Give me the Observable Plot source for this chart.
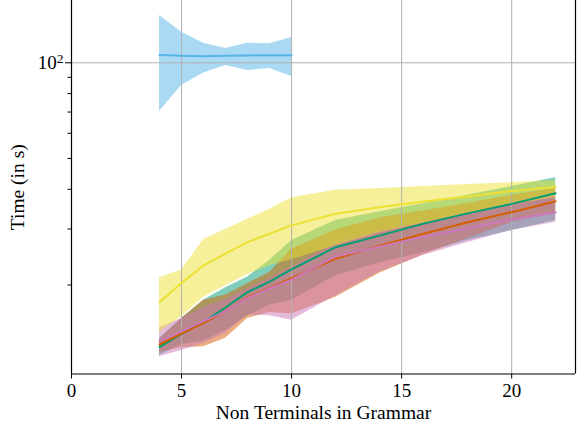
<!DOCTYPE html>
<html><head><meta charset="utf-8">
<script src="https://cdn.jsdelivr.net/npm/d3@7"></script>
<script src="https://cdn.jsdelivr.net/npm/@observablehq/plot@0.6"></script>
<style>body{margin:0;background:#fff}</style>
</head><body><div id="chart"></div>
<script>
// x values (Non Terminals in Grammar)
const xBlue = [4, 5, 6, 7, 8, 9, 10];
const xAll = [4, 5, 6, 7, 8, 9, 10, 12, 14, 16, 18, 20, 22];

// light blue series
const blueMean = [105.8, 105.3, 104.8, 105.2, 105.5, 105.6, 105.6];
const blueHi   = [140.8, 124.8, 115.2, 110.9, 115.2, 114.7, 120.1];
const blueLo   = [70.3, 84.9, 92.8, 98.0, 94.6, 95.9, 90.6];

// yellow series
const yellowMean = [17.67, 20.28, 23.05, 25.1, 27.28, 29.0, 30.8, 33.5, 35.1, 36.6, 38.0, 39.5, 40.7];
const yellowHi   = [21.1, 22.3, 27.8, 29.9, 32.2, 34.6, 37.6, 39.7, 40.2, 40.8, 41.4, 42.0, 42.6];
const yellowLo   = [14.2, 15.9, 18.3, 19.9, 21.6, 23.0, 24.0, 26.6, 29.2, 31.3, 33.5, 35.8, 37.6];

// green series
const greenMean = [12.76, 14.05, 15.28, 17.0, 19.0, 20.5, 22.4, 26.3, 28.6, 31.2, 33.6, 36.0, 38.9];
const greenHi   = [13.6, 15.7, 17.9, 19.6, 21.2, 23.9, 27.6, 31.9, 34.0, 36.1, 38.3, 40.8, 43.5];
const greenLo   = [12.0, 13.0, 13.3, 14.4, 16.0, 17.3, 17.9, 21.4, 23.5, 25.3, 27.6, 29.7, 31.9];

// red series
const redMean = [13.0, 14.08, 15.2, 16.5, 18.3, 19.6, 21.0, 24.2, 26.6, 29.0, 31.5, 33.9, 36.7];
const redHi   = [13.5, 15.7, 17.9, 18.6, 20.2, 21.9, 25.9, 29.8, 32.5, 34.2, 36.1, 38.3, 40.2];
const redLo   = [12.3, 12.7, 12.8, 13.6, 15.7, 16.4, 16.2, 18.3, 21.8, 24.9, 28.0, 31.5, 33.8];

// pink series
const pinkMean = [13.33, 14.3, 15.4, 16.5, 18.2, 19.5, 20.8, 24.6, 26.4, 28.4, 30.1, 32.2, 33.8];
const pinkHi   = [14.7, 15.7, 17.0, 18.0, 19.5, 21.0, 22.8, 27.0, 29.5, 31.5, 33.8, 36.3, 38.8];
const pinkLo   = [11.9, 12.45, 13.1, 14.1, 16.1, 16.0, 15.5, 18.5, 22.0, 24.8, 27.2, 29.7, 31.5];

const xTicks = [0, 5, 10, 15, 20];
const yMajor = [100];
const yMinor = [20, 30, 40, 50, 60, 70, 80, 90];

const rows = (xs, m, lo, hi) => xs.map((x, i) => ({x, m: m[i], lo: lo[i], hi: hi[i]}));
// drawing order: green, red, pink, yellow, light blue
const series = [
  {c: "#029E73", d: rows(xAll, greenMean, greenLo, greenHi)},
  {c: "#D55E00", d: rows(xAll, redMean, redLo, redHi)},
  {c: "#CC78BC", d: rows(xAll, pinkMean, pinkLo, pinkHi)},
  {c: "#ECE133", d: rows(xAll, yellowMean, yellowLo, yellowHi)},
  {c: "#56B4E9", d: rows(xBlue, blueMean, blueLo, blueHi)}
];

const X0 = 0, X1 = 22.9, Y0 = 10.5, Y1 = 157;

const chart = Plot.plot({
  width: 580, height: 440,
  marginLeft: 71, marginRight: 5, marginTop: 0, marginBottom: 66.5,
  style: {fontFamily: "Liberation Serif", fontSize: "19px", background: "white", color: "black"},
  x: {domain: [X0, X1]},
  y: {type: "log", domain: [Y0, Y1]},
  marks: [
    ...series.map(s => Plot.areaY(s.d, {x: "x", y1: "lo", y2: "hi", fill: s.c, fillOpacity: 0.5})),
    Plot.gridX([5, 10, 15, 20], {stroke: "#b0b0b0", strokeOpacity: 1, strokeWidth: 1}),
    Plot.gridY(yMajor, {stroke: "#b0b0b0", strokeOpacity: 1, strokeWidth: 1}),
    ...series.map(s => Plot.lineY(s.d, {x: "x", y: "m", stroke: s.c, strokeWidth: 2})),
    Plot.ruleX([X0, X1], {stroke: "black", strokeWidth: 1.2}),
    Plot.ruleY([Y0], {stroke: "black", strokeWidth: 1.2}),
    Plot.axisX({ticks: xTicks, tickSize: 5, tickPadding: 4, label: null, fontSize: 19, tickFormat: d => String(d)}),
    Plot.axisY({ticks: yMajor, tickSize: 6, tickPadding: 2, label: null, fontSize: 19, tickFormat: () => "10^2"}),
    Plot.axisY({ticks: yMinor, tickSize: 3.5, label: null, tickFormat: () => ""}),
    Plot.text(["Time (in s)"], {text: d => d, frameAnchor: "left", textAnchor: "middle", dx: -54, rotate: -90, fontSize: 19.5}),
    Plot.text(["Non Terminals in Grammar"], {text: d => d, frameAnchor: "bottom", dy: 45, fontSize: 19.5})
  ]
});
// render the exponent as a real superscript
chart.querySelectorAll("text").forEach(t => {
  if (t.textContent === "10^2") {
    t.textContent = "10";
    const ts = document.createElementNS("http://www.w3.org/2000/svg", "tspan");
    ts.setAttribute("dy", "-0.45em");
    ts.setAttribute("font-size", "13.5");
    ts.textContent = "2";
    t.appendChild(ts);
  }
});
document.getElementById("chart").appendChild(chart);
</script>
</body></html>
